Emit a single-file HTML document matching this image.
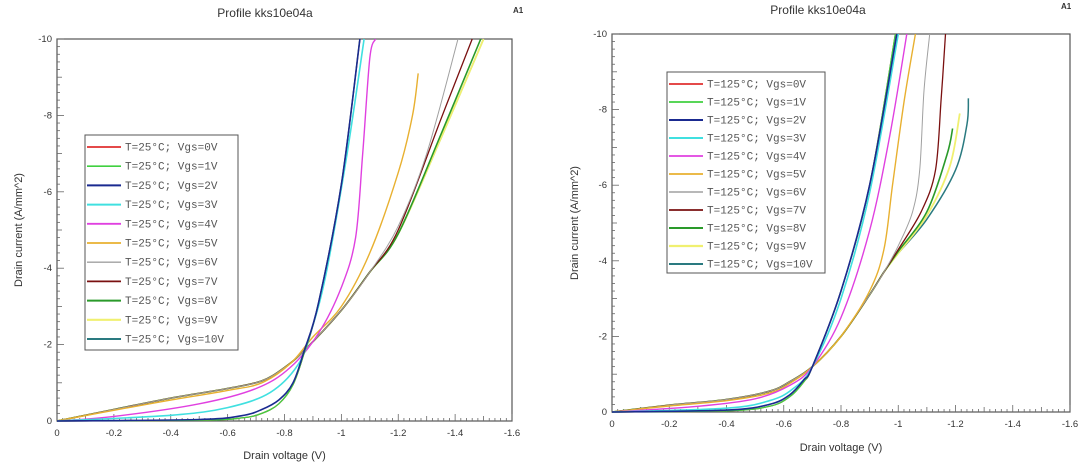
<!DOCTYPE html>
<html><head><meta charset="utf-8"><style>
body{margin:0;background:#fff;width:1080px;height:467px;overflow:hidden}
svg{display:block}
text{font-family:"Liberation Sans",sans-serif;fill:#333}
.m{font-family:"Liberation Mono",monospace;font-size:11px;fill:#555}
</style></head><body>
<svg id="s" width="1080" height="467" viewBox="0 0 1080 467"></svg>
<script>
const S=document.getElementById('s');let h='';
const cols=['#e03030','#40d040','#1a2a90','#40e0e0','#e040e0','#e8b030','#a0a0a0','#7a1010','#2a9a2a','#f0f070','#2a7a80'];
const wid=[1.3,1.3,1.6,1.6,1.4,1.4,1,1.3,1.6,1.8,1.5];
function cr(pts){let d='M'+pts[0][0].toFixed(1)+' '+pts[0][1].toFixed(1);
for(let i=0;i<pts.length-1;i++){const p0=pts[i-1]||pts[i],p1=pts[i],p2=pts[i+1],p3=pts[i+2]||p2;
const c1=[p1[0]+(p2[0]-p0[0])/6,p1[1]+(p2[1]-p0[1])/6],c2=[p2[0]-(p3[0]-p1[0])/6,p2[1]-(p3[1]-p1[1])/6];
d+=' C'+c1.map(v=>v.toFixed(1)).join(' ')+' '+c2.map(v=>v.toFixed(1)).join(' ')+' '+p2[0].toFixed(1)+' '+p2[1].toFixed(1);}return d;}
function chart(o){
const X=v=>o.x0+v/1.6*(o.x1-o.x0),Y=i=>o.y0-i/10*(o.y0-o.y1);
h+=`<rect x="${o.x0}" y="${o.y1}" width="${o.x1-o.x0}" height="${o.y0-o.y1}" fill="none" stroke="#555" stroke-width="1.2"/>`;
for(let k=0;k<=80;k++){const x=X(k*0.02),L=k%10==0?7:(k%5==0?5:3);h+=`<line x1="${x}" y1="${o.y0}" x2="${x}" y2="${o.y0-L}" stroke="#666" stroke-width="0.8"/>`;}
for(let k=0;k<=50;k++){const y=Y(k*0.2),L=k%10==0?7:(k%5==0?5:3);h+=`<line x1="${o.x0}" y1="${y}" x2="${o.x0+L}" y2="${y}" stroke="#666" stroke-width="0.8"/>`;}
['0','-0.2','-0.4','-0.6','-0.8','-1','-1.2','-1.4','-1.6'].forEach((t,k)=>h+=`<text x="${X(k*0.2)}" y="${o.y0+15}" font-size="9.5" text-anchor="middle">${t}</text>`);
['0','-2','-4','-6','-8','-10'].forEach((t,k)=>h+=`<text x="${o.x0-5}" y="${Y(k*2)+3}" font-size="9.5" text-anchor="end">${t}</text>`);
h+=`<text x="${o.tx}" y="${o.ty}" font-size="12" text-anchor="middle">Profile kks10e04a</text>`;
h+=`<text x="${o.ax}" y="${o.ay}" font-size="8" font-weight="bold">A1</text>`;
h+=`<text x="${(o.x0+o.x1)/2}" y="${o.xly}" font-size="11" text-anchor="middle">Drain voltage (V)</text>`;
h+=`<text transform="translate(${o.ylx},${(o.y0+o.y1)/2}) rotate(-90)" font-size="11" text-anchor="middle">Drain current (A/mm^2)</text>`;
[10,9,8,7,6,5,4,3,0,1,2].forEach(i=>{h+=`<path d="${cr(o.c[i].map(p=>[X(p[0]),Y(p[1])]))}" fill="none" stroke="${cols[i]}" stroke-width="${wid[i]}"/>`;});
h+=`<rect x="${o.lx}" y="${o.ly}" width="${o.lw}" height="${o.lh}" fill="#fff" stroke="#555" stroke-width="1"/>`;
for(let i=0;i<11;i++){const y=o.ly+12+i*o.ls;h+=`<line x1="${o.lx+2}" y1="${y}" x2="${o.lx+36}" y2="${y}" stroke="${cols[i]}" stroke-width="${wid[i]+0.4}"/><text class="m" x="${o.lx+40}" y="${y+3.5}">T=${o.T}°C; Vgs=${i}V</text>`;}
}
const L012=[[0,0],[0.5,0.02],[0.65,0.08],[0.72,0.2],[0.78,0.45],[0.83,0.95],[0.87,1.8],[0.92,3.1],[1.0,6.2],[1.065,10]];
const L2=[[0,0],[0.5,0.04],[0.65,0.14],[0.72,0.3],[0.78,0.55],[0.83,1.0],[0.87,1.85],[0.92,3.1],[1.0,6.2],[1.065,10]];
const base=[[0,0],[0.2,0.3],[0.4,0.6],[0.6,0.85],[0.72,1.05],[0.8,1.4],[0.87,1.85],[1.0,2.9],[1.1,3.9]];
const Lc={0:L012,1:L012,2:L2,
3:[[0,0],[0.4,0.15],[0.6,0.35],[0.75,0.75],[0.85,1.5],[0.9,2.5],[0.95,4],[1.02,7],[1.08,10]],
4:[[0,0],[0.2,0.12],[0.5,0.45],[0.7,0.85],[0.82,1.4],[0.92,2.3],[1.0,3.5],[1.05,4.8],[1.075,7],[1.1,9.5],[1.12,10]],
5:[[0,0],[0.2,0.28],[0.4,0.55],[0.6,0.8],[0.72,1.0],[0.82,1.5],[0.9,2.2],[1.0,3.0],[1.1,4.4],[1.2,6.5],[1.25,8],[1.27,9.1]],
6:base.concat([[1.2,5.1],[1.3,7.0],[1.41,10]]),
7:base.concat([[1.2,5.0],[1.35,7.9],[1.46,10]]),
8:base.concat([[1.2,4.9],[1.35,7.5],[1.49,10]]),
9:base.concat([[1.2,4.9],[1.35,7.4],[1.5,10]]),
10:base.concat([[1.2,4.9],[1.35,7.4],[1.5,10]])};
chart({x0:57,x1:512,y0:421,y1:39,tx:265,ty:17,ax:513,ay:13,xly:459,ylx:22,lx:85,ly:135,lw:153,lh:215,ls:19.2,T:'25',c:Lc});
const R012=[[0,0],[0.4,0.03],[0.55,0.15],[0.62,0.4],[0.67,0.8],[0.7,1.2],[0.8,3.2],[0.9,6],[0.99,10]];
const rb=[[0,0],[0.2,0.18],[0.4,0.33],[0.55,0.55],[0.62,0.8],[0.7,1.2],[0.8,2.0],[0.9,3.1],[0.95,3.7]];
const Rc={0:R012,1:R012,2:[[0,0],[0.4,0.05],[0.55,0.2],[0.62,0.45],[0.67,0.85],[0.7,1.2],[0.8,3.2],[0.9,6],[0.995,10]],
3:[[0,0],[0.4,0.1],[0.55,0.3],[0.63,0.6],[0.7,1.2],[0.8,3.0],[0.9,5.8],[1.0,10]],
4:[[0,0],[0.3,0.15],[0.5,0.35],[0.62,0.7],[0.7,1.2],[0.8,2.5],[0.9,4.8],[0.97,7.3],[1.03,10]],
5:[[0,0],[0.2,0.16],[0.4,0.3],[0.55,0.5],[0.63,0.8],[0.7,1.2],[0.8,2.0],[0.9,3.2],[0.95,4.3],[0.98,6],[1.02,8.2],[1.06,10]],
6:rb.concat([[1.0,4.4],[1.05,5.3],[1.075,6.4],[1.09,8.5],[1.11,10]]),
7:rb.concat([[1.0,4.3],[1.08,5.3],[1.13,6.4],[1.15,8.3],[1.165,10]]),
8:rb.concat([[1.0,4.25],[1.1,5.3],[1.17,6.8],[1.19,7.5]]),
9:rb.concat([[1.0,4.2],[1.1,5.2],[1.18,6.5],[1.215,7.9]]),
10:rb.concat([[1.0,4.2],[1.1,5.1],[1.2,6.4],[1.24,7.6],[1.245,8.3]])};
chart({x0:612,x1:1070,y0:412,y1:34,tx:818,ty:14,ax:1061,ay:9,xly:451,ylx:578,lx:667,ly:72,lw:158,lh:201,ls:18,T:'125',c:Rc});
S.innerHTML=h;
</script>
</body></html>
